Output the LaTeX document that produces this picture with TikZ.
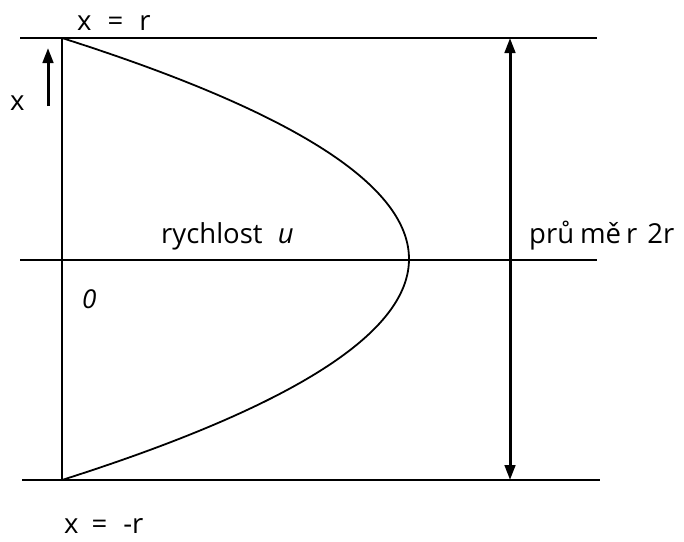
\documentclass[tikz,border=0pt]{standalone}
\usepackage{fontspec}
\setmainfont{Open Sans}
\usetikzlibrary{arrows.meta}
\begin{document}
\begin{tikzpicture}[x=1pt,y=-1pt,
  >={Triangle[length=15pt,width=10.5pt]},
  thinline/.style={line width=2pt},
  lbl/.style={inner sep=0pt,font=\fontsize{27.5}{30}\selectfont}]
\useasboundingbox (0,0) rectangle (684,541);
% reference coordinates
\coordinate (tl) at (20,38);   \coordinate (tr) at (597,38);
\coordinate (ml) at (20,260);  \coordinate (mr) at (597,260);
\coordinate (bl) at (22,480);  \coordinate (br) at (600,480);
\coordinate (vt) at (62,38);   \coordinate (vb) at (62,480);
\coordinate (dt) at (510,38);  \coordinate (db) at (510,480);
\coordinate (xs) at (48,106);  \coordinate (xe) at (48,48);
% horizontal lines
\draw[thinline] (tl) -- (tr);
\draw[thinline] (ml) -- (mr);
\draw[thinline] (bl) -- (br);
% vertical axis
\draw[thinline] (vt) -- (vb);
% velocity profile
\draw[line width=1.8pt] plot[domain=-1:1,samples=120] ({62+347*(1-\x*\x)},{259+221*\x});
% diameter arrow
\draw[line width=3pt,<->] (dt) -- (db);
% small x arrow
\draw[line width=3pt,->] (xs) -- (xe);
% labels
\node[lbl,anchor=base west] (xr) at (77,30) {x\hspace{16pt}=\hspace{16pt}r};
\node[lbl,anchor=base west] (x) at (10,110) {x};
\node[lbl,anchor=base west,text depth=0pt] (xmr) at (64,533) {x\hspace{13pt}=\hspace{16pt}-r};
\node[lbl,anchor=base west] (vel) at (161,243) {rychlost\hspace{0.55em}\itshape u};
\node[lbl,anchor=base west] (zero) at (82,308) {\fontsize{26}{28}\selectfont\itshape 0};
\node[lbl,anchor=base west] (diam) at (529,243) {prů\hspace{6pt}mě\hspace{5pt}r\hspace{10pt}2r};
\end{tikzpicture}
\end{document}
